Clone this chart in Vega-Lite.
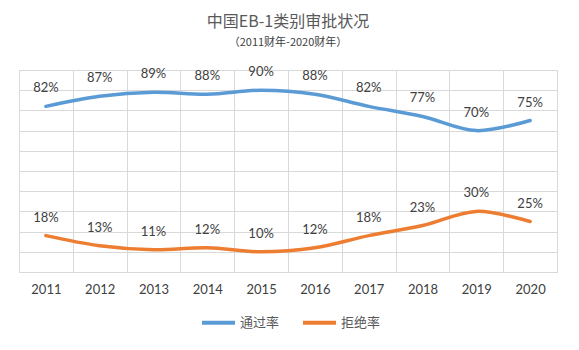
{
  "$schema": "https://vega.github.io/schema/vega-lite/v6.json",
  "autosize": {"type": "none"},
  "width": 538,
  "height": 202,
  "padding": {"left": 19, "top": 70, "right": 22, "bottom": 78},
  "background": "white",
  "title": {
    "text": "中国EB-1类别审批状况",
    "subtitle": "（2011财年-2020财年）",
    "anchor": "middle",
    "frame": "group",
    "font": "Noto Sans CJK SC",
    "fontSize": 16,
    "fontWeight": "normal",
    "color": "#595959",
    "subtitleFont": "Noto Sans CJK SC",
    "subtitleFontSize": 11,
    "subtitleColor": "#404040",
    "subtitlePadding": 7,
    "offset": 18
  },
  "data": {
    "values": [
      {"year": "2011", "type": "通过率", "value": 0.82},
      {"year": "2012", "type": "通过率", "value": 0.87},
      {"year": "2013", "type": "通过率", "value": 0.89},
      {"year": "2014", "type": "通过率", "value": 0.88},
      {"year": "2015", "type": "通过率", "value": 0.90},
      {"year": "2016", "type": "通过率", "value": 0.88},
      {"year": "2017", "type": "通过率", "value": 0.82},
      {"year": "2018", "type": "通过率", "value": 0.77},
      {"year": "2019", "type": "通过率", "value": 0.70},
      {"year": "2020", "type": "通过率", "value": 0.75},
      {"year": "2011", "type": "拒绝率", "value": 0.18},
      {"year": "2012", "type": "拒绝率", "value": 0.13},
      {"year": "2013", "type": "拒绝率", "value": 0.11},
      {"year": "2014", "type": "拒绝率", "value": 0.12},
      {"year": "2015", "type": "拒绝率", "value": 0.10},
      {"year": "2016", "type": "拒绝率", "value": 0.12},
      {"year": "2017", "type": "拒绝率", "value": 0.18},
      {"year": "2018", "type": "拒绝率", "value": 0.23},
      {"year": "2019", "type": "拒绝率", "value": 0.30},
      {"year": "2020", "type": "拒绝率", "value": 0.25}
    ]
  },
  "encoding": {
    "x": {
      "field": "year",
      "type": "ordinal",
      "bandPosition": 0.5,
      "scale": {"type": "band", "paddingInner": 0, "paddingOuter": 0},
      "axis": {
        "title": null,
        "labelAngle": 0,
        "grid": true,
        "tickBand": "extent",
        "gridColor": "#d9d9d9",
        "gridWidth": 1,
        "domain": false,
        "ticks": false,
        "labelPadding": 11,
        "labelFont": "Lato",
        "labelFontSize": 13,
        "labelColor": "#404040"
      }
    },
    "y": {
      "field": "value",
      "type": "quantitative",
      "scale": {"domain": [0, 1], "nice": false, "zero": true},
      "axis": {
        "title": null,
        "labels": false,
        "ticks": false,
        "domain": false,
        "grid": true,
        "gridColor": "#d9d9d9",
        "values": [0, 0.1, 0.2, 0.3, 0.4, 0.5, 0.6, 0.7, 0.8, 0.9, 1.0]
      }
    },
    "color": {
      "field": "type",
      "type": "nominal",
      "scale": {"domain": ["通过率", "拒绝率"], "range": ["#5B9BD5", "#ED7D31"]},
      "legend": {
        "title": null,
        "orient": "none",
        "direction": "horizontal",
        "legendX": 181,
        "legendY": 234,
        "symbolType": "stroke",
        "symbolSize": 1089,
        "symbolStrokeWidth": 4,
        "labelFont": "Noto Sans CJK SC",
        "labelFontSize": 13,
        "labelColor": "#595959",
        "labelOffset": 3,
        "columnPadding": 15
      }
    }
  },
  "layer": [
    {
      "mark": {"type": "line", "interpolate": "catmull-rom", "strokeWidth": 3.5, "strokeCap": "round"}
    },
    {
      "mark": {"type": "text", "dy": -18, "font": "Lato", "fontSize": 13, "color": "#404040"},
      "encoding": {
        "text": {"field": "value", "type": "quantitative", "format": ".0%"},
        "color": {"value": "#404040"}
      }
    }
  ],
  "config": {
    "view": {"stroke": "#d9d9d9", "strokeWidth": 1}
  }
}
